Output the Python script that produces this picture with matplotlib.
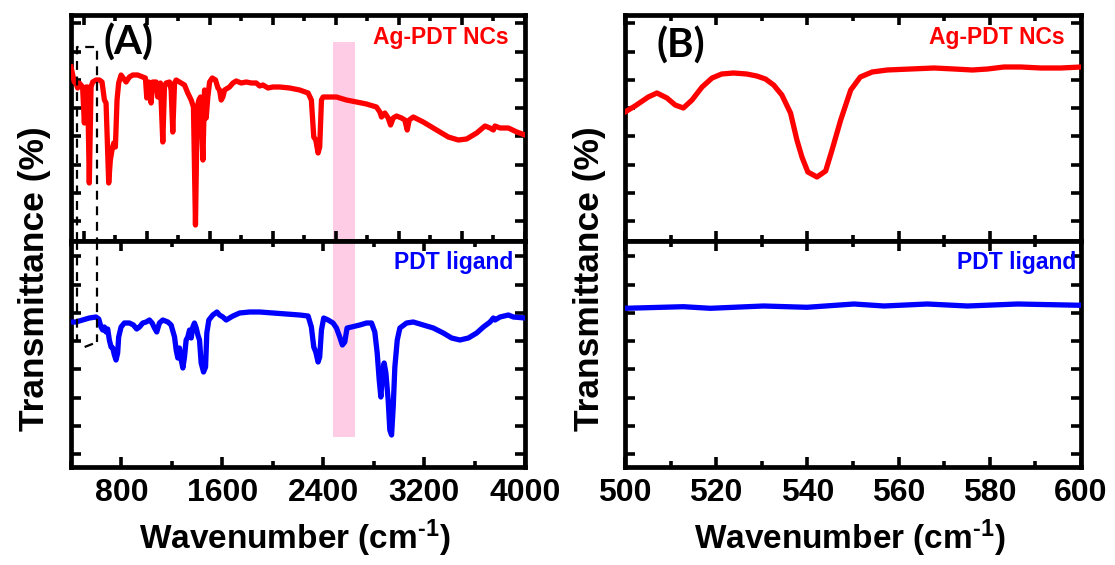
import numpy as np
import matplotlib
matplotlib.use("Agg")
import matplotlib.pyplot as plt
from matplotlib.ticker import MultipleLocator, FixedLocator, NullFormatter

plt.rcParams['font.family'] = ['Liberation Sans', 'DejaVu Sans']
plt.rcParams['font.weight'] = 'bold'
plt.rcParams['mathtext.fontset'] = 'custom'
plt.rcParams['mathtext.rm'] = 'Liberation Sans:bold'
plt.rcParams['mathtext.bf'] = 'Liberation Sans:bold'
plt.rcParams['mathtext.default'] = 'bf'

# ---------------- data (wavenumber in cm^-1, transmittance in arbitrary units) ----------------
ag_wn = [400, 426, 439, 453, 466, 479, 492, 506, 519, 532, 545, 559, 572, 598, 625, 646, 665, 678,
         699, 712, 725, 739, 752, 765, 778, 797, 837, 863, 890, 929, 969, 990, 1001, 1017, 1035,
         1048, 1075, 1088, 1101, 1109, 1128, 1141, 1154, 1181, 1194, 1207, 1221, 1234, 1260, 1300,
         1326, 1353, 1371, 1387, 1401, 1414, 1427, 1446, 1459, 1472, 1485, 1499, 1520, 1546, 1565,
         1578, 1591, 1604, 1618, 1657, 1684, 1710, 1750, 1790, 1830, 1869, 1896, 1922, 1962, 2002,
         2055, 2134, 2213, 2280, 2306, 2325, 2341, 2359, 2372, 2386, 2399, 2425, 2505, 2584, 2664,
         2743, 2822, 2849, 2862, 2889, 2915, 2934, 2955, 2981, 3021, 3047, 3066, 3082, 3114, 3193,
         3299, 3392, 3471, 3537, 3617, 3664, 3683, 3723, 3749, 3762, 3802, 3868, 3935, 4000]
ag_t = [174, 159, 158, 153, 158, 156, 154, 118, 154, 154, 58, 154, 159, 161, 161, 159, 141, 138,
        58, 81, 91, 98, 94, 141, 158, 166, 159, 164, 166, 166, 164, 163, 143, 159, 138,
        159, 159, 144, 154, 158, 99, 154, 158, 159, 151, 109, 158, 161, 159, 156,
        148, 141, 134, 16, 134, 141, 144, 81, 151, 123, 144, 159, 163, 161, 153,
        151, 141, 144, 151, 154, 158, 160, 158, 159, 158, 158, 155, 156, 153, 154,
        154, 153, 151, 148, 141, 104, 101, 88, 94, 141, 144, 144, 144, 141, 139,
        137, 134, 129, 124, 128, 123, 116, 123, 125, 123, 121, 111, 121, 124, 119,
        111, 104, 101, 102, 108, 113, 115, 113, 111, 115, 113, 113, 109, 106]

pdt_wn = [400, 439, 492, 545, 598, 620, 638, 651, 665, 678, 691, 704, 718, 731, 744, 757, 770, 778,
          797, 823, 863, 895, 921, 943, 969, 996, 1022, 1043, 1062, 1080, 1101, 1128, 1168, 1194,
          1221, 1234, 1247, 1260, 1274, 1287, 1300, 1313, 1326, 1340, 1353, 1366, 1379, 1393, 1406,
          1419, 1432, 1451, 1467, 1477, 1493, 1525, 1557, 1578, 1604, 1631, 1657, 1684, 1737, 1816,
          1896, 2002, 2108, 2213, 2280, 2306, 2325, 2341, 2359, 2372, 2386, 2404, 2439, 2478, 2505,
          2531, 2552, 2571, 2589, 2624, 2690, 2743, 2783, 2809, 2828, 2844, 2857, 2870, 2883, 2897,
          2915, 2928, 2942, 2955, 2968, 2987, 3008, 3061, 3114, 3193, 3273, 3352, 3418, 3484, 3551,
          3617, 3670, 3723, 3749, 3762, 3802, 3868, 3908, 4000]
pdt_t = [145, 145, 147, 149, 150, 148, 140, 137, 140, 135, 138, 127, 120, 119, 112, 107, 114, 130,
         140, 144, 144, 142, 138, 140, 144, 145, 147, 144, 139, 135, 144, 147, 145, 142,
         130, 117, 109, 119, 107, 99, 110, 127, 130, 137, 129, 140, 144, 139, 132,
         127, 104, 95, 100, 134, 147, 152, 155, 152, 150, 147, 149, 151, 154, 155,
         155, 154, 153, 152, 151, 140, 120, 115, 105, 110, 137, 149, 147, 144, 139,
         130, 122, 125, 139, 140, 142, 144, 144, 135, 114, 87, 70, 94, 104, 94,
         67, 37, 32, 60, 100, 127, 139, 144, 145, 142, 139, 134, 129, 127, 129,
         134, 140, 145, 149, 147, 150, 152, 150, 149]

agz_wn = [500, 502.2, 505.1, 507.0, 509.2, 511.0, 512.8, 514.7, 516.9, 519.1, 521.2, 523.8, 526.7,
          528.9, 530.8, 532.6, 534.4, 536.3, 537.7, 538.8, 540.1, 542.1, 544.0, 545.4, 547.3,
          549.5, 551.6, 554.2, 557.5, 562.6, 567.8, 572.2, 576.2, 579.5, 583.1, 586.8, 591.2,
          595.6, 600]
agz_t = [129, 135, 144, 148, 143, 136, 133, 141, 154, 163, 167, 168, 167, 165, 162, 156, 146, 128,
         101, 84, 69, 64, 70, 91, 121, 151, 164, 169, 171, 172, 173, 172, 171, 172, 174, 174, 173,
         173, 174]

pdtz_wn = [500, 512.8, 518.7, 530.4, 539.9, 550.2, 556.8, 566.3, 575.1, 586.1, 600]
pdtz_t = [158.7, 160.3, 158.7, 161, 159.7, 163, 161, 163, 161, 163, 161.7]

band = (2478, 2650)          # highlighted region
box_wn = (448, 610)          # dashed zoom box

# ---------------- figure ----------------
W, H = 1115, 565
fig = plt.figure(figsize=(W / 100, H / 100), dpi=100)

def px_axes(left, top, right, bottom):
    return fig.add_axes([left / W, (H - bottom) / H, (right - left) / W, (bottom - top) / H])

axA1 = px_axes(71, 15, 525, 241)
axA2 = px_axes(71, 241, 525, 467)
axB1 = px_axes(625, 15, 1081, 241)
axB2 = px_axes(625, 241, 1081, 467)

RED = '#FF0000'
BLUE = '#0000FF'
LW = 3.8
PINK = '#FFCCE6'

axA1.plot(ag_wn, ag_t, color=RED, lw=LW, solid_joinstyle='round', zorder=3)
axA2.plot(pdt_wn, pdt_t, color=BLUE, lw=LW, solid_joinstyle='round', zorder=3)
axB1.plot(agz_wn, agz_t, color=RED, lw=LW, solid_joinstyle='round', zorder=3)
axB2.plot(pdtz_wn, pdtz_t, color=BLUE, lw=LW, solid_joinstyle='round', zorder=3)

for ax in (axA1, axA2):
    ax.set_xlim(400, 4000)
for ax in (axB1, axB2):
    ax.set_xlim(500, 600)
for ax in (axA1, axA2, axB1, axB2):
    ax.set_ylim(0, 226)

# pink band across both A panels
axA1.axvspan(band[0], band[1], ymin=0, ymax=199 / 226, color=PINK, lw=0, zorder=1)
axA2.axvspan(band[0], band[1], ymin=30 / 226, ymax=1, color=PINK, lw=0, zorder=1)

# dashed box
dash = dict(color='black', lw=1.6, ls=(0, (4, 3)), zorder=4, clip_on=False)
axA1.plot([box_wn[0], box_wn[0], box_wn[1], box_wn[1]], [0, 194, 194, 0], **dash)
axA2.plot([box_wn[0], box_wn[0]], [226, 125], **dash)
axA2.plot([box_wn[1], box_wn[1]], [226, 125], **dash)
axA2.plot([box_wn[0] + 60, box_wn[1]], [120, 125], **dash)

# ticks
for ax in (axA1, axA2, axB1, axB2):
    for s in ax.spines.values():
        s.set_linewidth(3.4)
    ax.tick_params(which='both', direction='in', top=True, right=True, width=2.6,
                   labelsize=23, pad=8)
    ax.tick_params(which='major', length=7)
    ax.tick_params(which='minor', length=4.5)

axA1.xaxis.set_major_locator(MultipleLocator(500))
axA1.xaxis.set_minor_locator(MultipleLocator(250))
axA2.xaxis.set_major_locator(MultipleLocator(800))
axA2.xaxis.set_minor_locator(MultipleLocator(400))
for ax in (axB1, axB2):
    ax.xaxis.set_major_locator(MultipleLocator(20))
    ax.xaxis.set_minor_locator(MultipleLocator(10))

for ax in (axA1, axB1):
    ax.yaxis.set_major_locator(FixedLocator([20 + 28.25 * k for k in range(8)]))
for ax in (axA2, axB2):
    ax.yaxis.set_major_locator(FixedLocator([13 + 28.25 * k for k in range(8)]))
for ax in (axA1, axA2, axB1, axB2):
    ax.yaxis.set_major_formatter(NullFormatter())
for ax in (axA1, axB1):
    ax.xaxis.set_major_formatter(NullFormatter())

axA2.set_xticks([800, 1600, 2400, 3200, 4000])
axA2.set_xticklabels(['800', '1600', '2400', '3200', '4000'], fontweight='bold')
axB2.set_xticks([500, 520, 540, 560, 580, 600])
axB2.set_xticklabels(['500', '520', '540', '560', '580', '600'], fontweight='bold')

# labels
for ax in (axA1, axB1):
    ax.text(0.965, 0.95, 'Ag-PDT NCs', transform=ax.transAxes, ha='right', va='top',
            color=RED, fontsize=16.5, fontweight='bold')
axA2.text(0.974, 0.955, 'PDT ligand', transform=axA2.transAxes, ha='right', va='top',
          color=BLUE, fontsize=16.5, fontweight='bold')
axB2.text(0.99, 0.955, 'PDT ligand', transform=axB2.transAxes, ha='right', va='top',
          color=BLUE, fontsize=16.5, fontweight='bold')

axA1.text(0.072, 0.88, '(A)', transform=axA1.transAxes, ha='left', va='center',
          fontsize=29, fontweight='bold', family=['Lato', 'DejaVu Sans'])
axB1.text(0.07, 0.865, '(B)', transform=axB1.transAxes, ha='left', va='center',
          fontsize=29, fontweight='bold', family=['Lato', 'DejaVu Sans'])

for xc in (35, 590):
    fig.text(xc / W, (H - 279) / H, 'Transmittance (%)', rotation=90, ha='center', va='center',
             fontsize=25.5, fontweight='bold')
for xc in (295, 850):
    fig.text(xc / W, (H - 538) / H, r'Wavenumber (cm$^{\text{-}1}$)', ha='center', va='center',
             fontsize=24, fontweight='bold')

fig.savefig('out.png', dpi=100)
